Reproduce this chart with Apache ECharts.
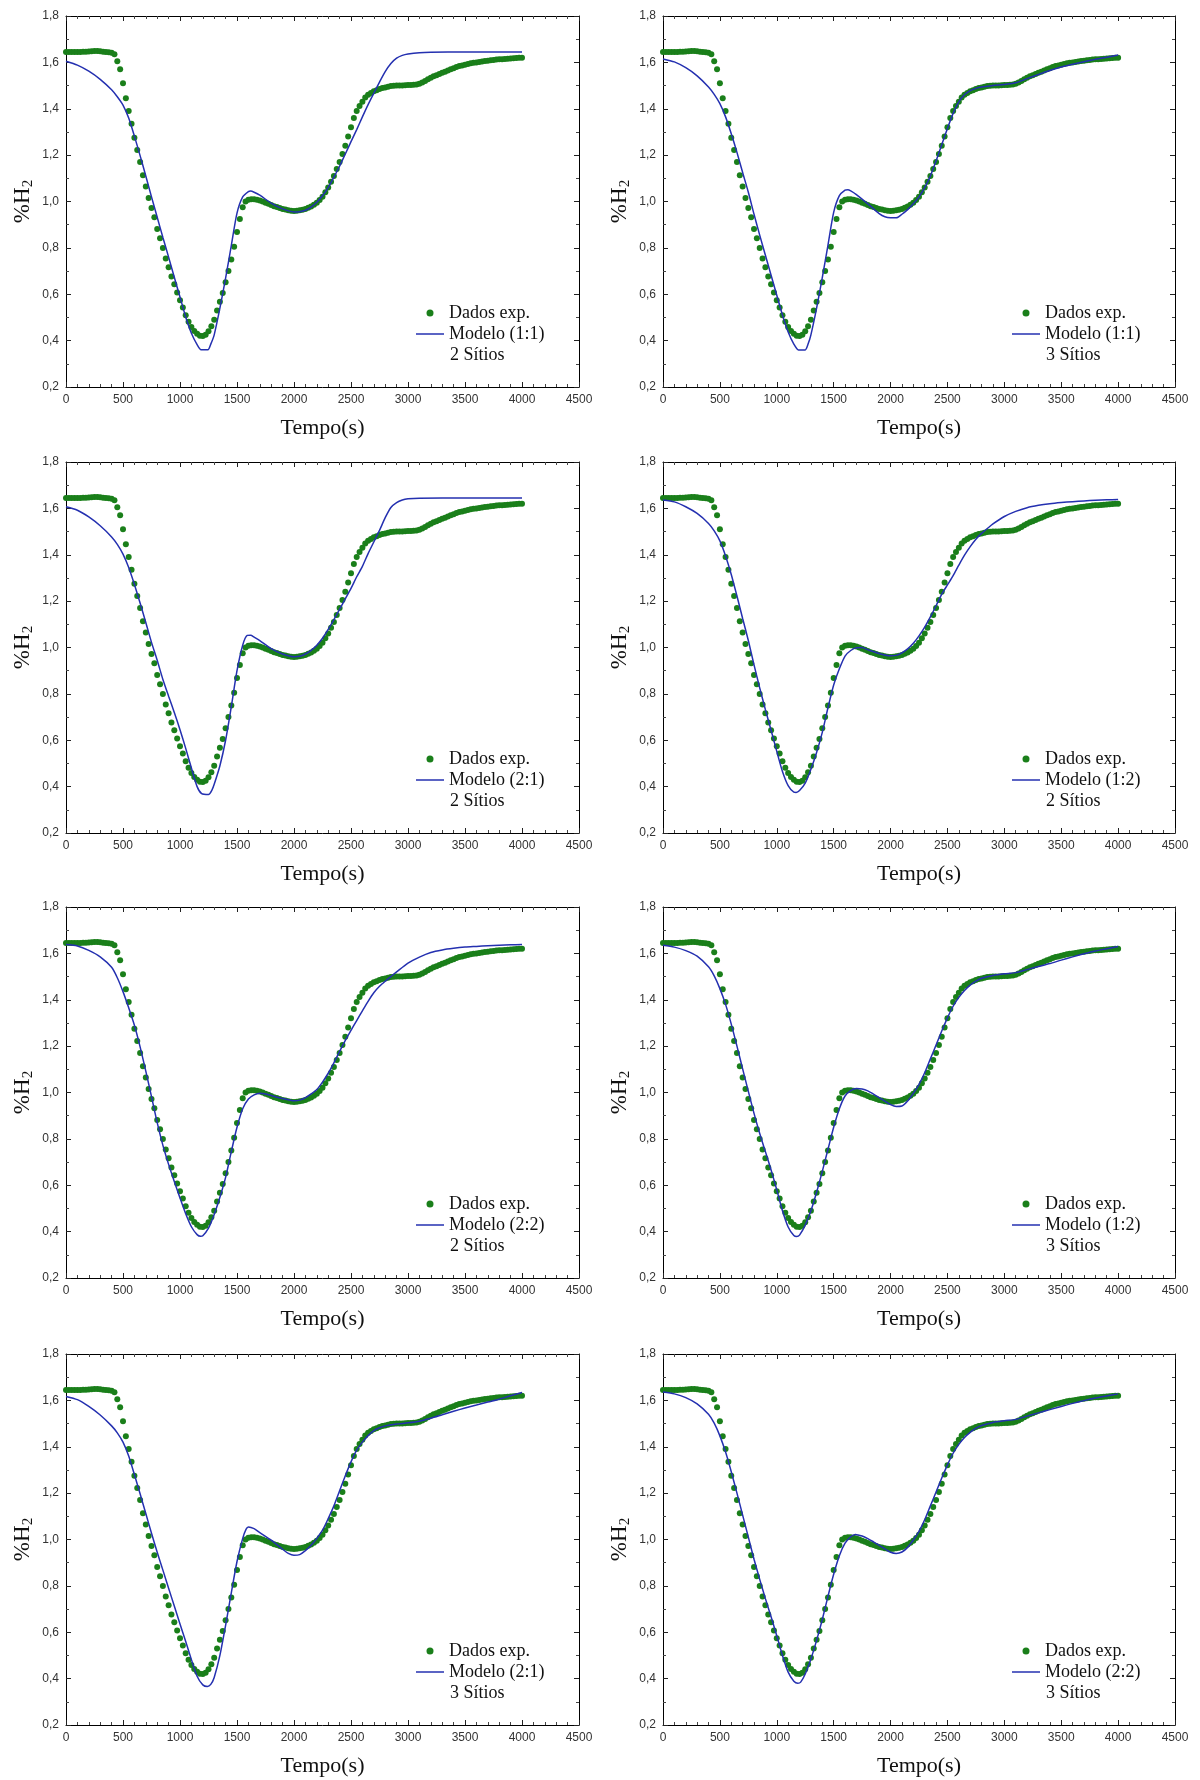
<!DOCTYPE html>
<html>
<head>
<meta charset="utf-8">
<script src="https://cdn.jsdelivr.net/npm/echarts/dist/echarts.min.js"></script>
<style>
  html, body { margin: 0; padding: 0; background: #ffffff; }
  #chart { width: 1200px; height: 1780px; }
</style>
</head>
<body>
<div id="chart"></div>
<script>
// Tempo das medidas experimentais (s)
const tempoExp = [
  0, 25, 50, 75, 100, 125, 150, 175, 200, 225, 250, 275, 300, 325, 350, 375, 400, 425, 450, 475,
  500, 525, 550, 575, 600, 625, 650, 675, 700, 725, 750, 775, 800, 825, 850, 875, 900, 925, 950, 975,
  1000, 1025, 1050, 1075, 1100, 1125, 1150, 1175, 1200, 1225, 1250, 1275, 1300, 1325, 1350, 1375, 1400, 1425, 1450, 1475,
  1500, 1525, 1550, 1575, 1600, 1625, 1650, 1675, 1700, 1725, 1750, 1775, 1800, 1825, 1850, 1875, 1900, 1925, 1950, 1975,
  2000, 2025, 2050, 2075, 2100, 2125, 2150, 2175, 2200, 2225, 2250, 2275, 2300, 2325, 2350, 2375, 2400, 2425, 2450, 2475,
  2500, 2525, 2550, 2575, 2600, 2625, 2650, 2675, 2700, 2725, 2750, 2775, 2800, 2825, 2850, 2875, 2900, 2925, 2950, 2975,
  3000, 3025, 3050, 3075, 3100, 3125, 3150, 3175, 3200, 3225, 3250, 3275, 3300, 3325, 3350, 3375, 3400, 3425, 3450, 3475,
  3500, 3525, 3550, 3575, 3600, 3625, 3650, 3675, 3700, 3725, 3750, 3775, 3800, 3825, 3850, 3875, 3900, 3925, 3950, 3975,
  4000
];

// %H2 medido
const h2Exp = [
  1.645, 1.645, 1.645, 1.645, 1.645, 1.645, 1.646, 1.646, 1.647, 1.648, 1.649, 1.649, 1.648, 1.646, 1.645, 1.644, 1.642, 1.635, 1.605, 1.570,
  1.510, 1.445, 1.390, 1.335, 1.275, 1.222, 1.170, 1.113, 1.065, 1.015, 0.972, 0.932, 0.881, 0.842, 0.799, 0.754, 0.716, 0.677, 0.643, 0.608,
  0.574, 0.543, 0.509, 0.481, 0.459, 0.442, 0.430, 0.421, 0.420, 0.425, 0.440, 0.462, 0.490, 0.530, 0.568, 0.605, 0.652, 0.700, 0.750, 0.805,
  0.868, 0.925, 0.975, 1.000, 1.008, 1.010, 1.010, 1.008, 1.004, 1.000, 0.995, 0.990, 0.985, 0.980, 0.976, 0.972, 0.968, 0.965, 0.962, 0.960,
  0.959, 0.960, 0.962, 0.964, 0.968, 0.973, 0.978, 0.986, 0.995, 1.007, 1.020, 1.040, 1.060, 1.085, 1.110, 1.140, 1.170, 1.205, 1.240, 1.280,
  1.320, 1.360, 1.390, 1.412, 1.430, 1.448, 1.460, 1.468, 1.475, 1.480, 1.485, 1.489, 1.492, 1.495, 1.498, 1.499, 1.500, 1.500, 1.500, 1.501,
  1.502, 1.502, 1.503, 1.505, 1.508, 1.513, 1.520, 1.527, 1.534, 1.540, 1.545, 1.550, 1.555, 1.560, 1.565, 1.570, 1.575, 1.580, 1.584, 1.587,
  1.590, 1.593, 1.596, 1.598, 1.600, 1.602, 1.604, 1.606, 1.607, 1.609, 1.610, 1.612, 1.613, 1.614, 1.615, 1.616, 1.617, 1.618, 1.619, 1.620,
  1.620
];

// Curvas do modelo: [tempo (s), %H2]
const modelo11_2sitios = [[0,1.605],[100,1.588],[200,1.562],[300,1.527],[400,1.482],[450,1.452],[500,1.416],[550,1.36],[600,1.282],[650,1.198],[700,1.11],[750,1.02],[800,0.932],[850,0.845],[900,0.76],[950,0.673],[1000,0.588],[1050,0.502],[1100,0.432],[1150,0.383],[1185,0.361],[1245,0.361],[1270,0.385],[1300,0.425],[1350,0.54],[1400,0.67],[1450,0.81],[1500,0.95],[1550,1.02],[1600,1.043],[1620,1.045],[1650,1.04],[1700,1.027],[1800,0.993],[1900,0.968],[2000,0.955],[2050,0.956],[2100,0.962],[2150,0.976],[2200,0.997],[2250,1.025],[2300,1.06],[2350,1.105],[2400,1.152],[2450,1.205],[2500,1.258],[2550,1.31],[2600,1.365],[2650,1.418],[2700,1.467],[2750,1.515],[2800,1.56],[2850,1.595],[2900,1.618],[2950,1.63],[3000,1.636],[3100,1.642],[3200,1.644],[3500,1.645],[4000,1.645]];

const modelo11_3sitios = [[0,1.615],[100,1.602],[200,1.577],[300,1.542],[400,1.494],[450,1.462],[500,1.422],[550,1.365],[600,1.292],[650,1.212],[700,1.125],[750,1.04],[800,0.945],[850,0.855],[900,0.768],[950,0.682],[1000,0.596],[1050,0.51],[1100,0.437],[1150,0.385],[1190,0.36],[1250,0.36],[1275,0.385],[1300,0.425],[1350,0.54],[1400,0.672],[1450,0.812],[1500,0.953],[1550,1.025],[1600,1.049],[1625,1.051],[1650,1.046],[1700,1.03],[1800,0.99],[1900,0.948],[1950,0.934],[2000,0.93],[2050,0.93],[2100,0.945],[2150,0.965],[2200,0.99],[2250,1.02],[2300,1.06],[2350,1.11],[2400,1.175],[2450,1.245],[2500,1.315],[2550,1.38],[2600,1.43],[2650,1.46],[2700,1.478],[2750,1.488],[2800,1.494],[2900,1.5],[3000,1.505],[3100,1.512],[3200,1.53],[3300,1.548],[3400,1.565],[3500,1.58],[3600,1.592],[3700,1.603],[3800,1.613],[3900,1.622],[4000,1.632]];

const modelo21_2sitios = [[0,1.607],[100,1.592],[200,1.563],[300,1.525],[400,1.477],[450,1.445],[500,1.403],[550,1.345],[600,1.272],[650,1.192],[700,1.108],[750,1.022],[800,0.945],[850,0.862],[900,0.79],[950,0.72],[1000,0.645],[1050,0.565],[1100,0.48],[1150,0.4],[1190,0.37],[1250,0.366],[1280,0.385],[1300,0.41],[1350,0.49],[1400,0.6],[1450,0.745],[1500,0.9],[1550,1.01],[1590,1.052],[1620,1.053],[1650,1.045],[1700,1.03],[1800,0.995],[1900,0.972],[2000,0.96],[2050,0.962],[2100,0.972],[2150,0.988],[2200,1.01],[2250,1.04],[2300,1.078],[2350,1.12],[2400,1.165],[2450,1.21],[2500,1.255],[2550,1.305],[2600,1.35],[2650,1.405],[2700,1.455],[2750,1.505],[2800,1.56],[2850,1.604],[2900,1.625],[2950,1.636],[3000,1.641],[3100,1.644],[3500,1.645],[4000,1.645]];

const modelo12_2sitios = [[0,1.636],[100,1.628],[200,1.607],[300,1.578],[400,1.535],[450,1.503],[500,1.46],[550,1.395],[600,1.315],[650,1.222],[700,1.125],[750,1.03],[800,0.925],[850,0.826],[900,0.732],[950,0.643],[1000,0.552],[1050,0.465],[1100,0.404],[1150,0.376],[1170,0.375],[1200,0.383],[1250,0.415],[1300,0.475],[1350,0.547],[1400,0.634],[1450,0.74],[1500,0.838],[1550,0.908],[1600,0.963],[1650,0.987],[1700,0.999],[1750,1.0],[1800,0.99],[1900,0.974],[2000,0.964],[2050,0.966],[2100,0.977],[2150,0.994],[2200,1.018],[2250,1.05],[2300,1.088],[2350,1.132],[2400,1.18],[2450,1.23],[2500,1.27],[2550,1.31],[2600,1.355],[2650,1.398],[2700,1.435],[2750,1.467],[2800,1.492],[2850,1.513],[2900,1.533],[3000,1.565],[3100,1.587],[3200,1.603],[3300,1.613],[3400,1.62],[3500,1.625],[3600,1.629],[3700,1.632],[3800,1.635],[3900,1.637],[4000,1.638]];

const modelo22_2sitios = [[0,1.638],[100,1.632],[200,1.613],[300,1.585],[400,1.54],[450,1.495],[500,1.435],[550,1.365],[600,1.29],[650,1.197],[700,1.092],[750,0.982],[800,0.87],[850,0.772],[900,0.69],[950,0.616],[1000,0.545],[1050,0.477],[1100,0.421],[1150,0.387],[1180,0.38],[1200,0.382],[1250,0.415],[1300,0.474],[1350,0.548],[1400,0.634],[1450,0.745],[1500,0.85],[1550,0.93],[1600,0.972],[1650,0.99],[1700,0.997],[1750,0.994],[1800,0.987],[1900,0.974],[2000,0.964],[2050,0.967],[2100,0.978],[2150,0.994],[2200,1.013],[2250,1.045],[2300,1.083],[2350,1.128],[2400,1.177],[2450,1.225],[2500,1.268],[2550,1.31],[2600,1.352],[2650,1.393],[2700,1.43],[2750,1.458],[2800,1.48],[2850,1.5],[2900,1.52],[3000,1.558],[3100,1.584],[3200,1.604],[3300,1.615],[3400,1.622],[3500,1.627],[3600,1.63],[3700,1.633],[3800,1.635],[3900,1.637],[4000,1.638]];

const modelo12_3sitios = [[0,1.635],[100,1.627],[200,1.612],[300,1.588],[400,1.542],[450,1.503],[500,1.448],[550,1.38],[600,1.295],[650,1.2],[700,1.102],[750,1.005],[800,0.91],[850,0.823],[900,0.745],[950,0.666],[1000,0.58],[1050,0.49],[1100,0.42],[1150,0.383],[1175,0.379],[1200,0.385],[1250,0.428],[1300,0.49],[1350,0.57],[1400,0.66],[1450,0.755],[1500,0.85],[1550,0.93],[1600,0.985],[1650,1.008],[1700,1.017],[1750,1.015],[1800,1.007],[1850,0.993],[1900,0.978],[1950,0.963],[2000,0.948],[2050,0.94],[2100,0.942],[2150,0.963],[2200,0.996],[2250,1.035],[2300,1.085],[2350,1.145],[2400,1.205],[2450,1.265],[2500,1.322],[2550,1.372],[2600,1.41],[2650,1.44],[2700,1.463],[2750,1.48],[2800,1.493],[2900,1.505],[3000,1.512],[3100,1.517],[3200,1.53],[3300,1.543],[3400,1.556],[3500,1.571],[3600,1.585],[3700,1.598],[3800,1.61],[3900,1.62],[4000,1.63]];

const modelo21_3sitios = [[0,1.617],[100,1.603],[200,1.574],[300,1.537],[400,1.49],[450,1.46],[500,1.42],[550,1.36],[600,1.28],[650,1.197],[700,1.112],[750,1.027],[800,0.945],[850,0.868],[900,0.79],[950,0.713],[1000,0.636],[1050,0.56],[1100,0.482],[1150,0.41],[1200,0.373],[1240,0.366],[1270,0.375],[1300,0.405],[1350,0.5],[1400,0.63],[1450,0.77],[1500,0.905],[1550,1.005],[1580,1.045],[1600,1.054],[1650,1.047],[1700,1.03],[1800,0.997],[1900,0.958],[1950,0.94],[2000,0.932],[2050,0.935],[2100,0.952],[2150,0.975],[2200,1.005],[2250,1.04],[2300,1.09],[2350,1.145],[2400,1.21],[2450,1.275],[2500,1.335],[2550,1.385],[2600,1.42],[2650,1.448],[2700,1.47],[2750,1.482],[2800,1.49],[2900,1.498],[3000,1.503],[3100,1.51],[3200,1.523],[3300,1.538],[3400,1.553],[3500,1.567],[3600,1.58],[3700,1.593],[3800,1.605],[3900,1.62],[4000,1.634]];

const modelo22_3sitios = [[0,1.636],[100,1.628],[200,1.612],[300,1.585],[400,1.54],[450,1.502],[500,1.447],[550,1.377],[600,1.292],[650,1.2],[700,1.105],[750,1.01],[800,0.915],[850,0.828],[900,0.745],[950,0.667],[1000,0.585],[1050,0.5],[1100,0.428],[1150,0.389],[1185,0.38],[1210,0.385],[1250,0.42],[1300,0.485],[1350,0.565],[1400,0.655],[1450,0.755],[1500,0.85],[1550,0.93],[1600,0.984],[1650,1.012],[1690,1.022],[1750,1.015],[1800,1.004],[1850,0.99],[1900,0.975],[1950,0.96],[2000,0.945],[2050,0.94],[2100,0.946],[2150,0.966],[2200,0.998],[2250,1.035],[2300,1.085],[2350,1.145],[2400,1.205],[2450,1.265],[2500,1.322],[2550,1.372],[2600,1.41],[2650,1.44],[2700,1.462],[2750,1.48],[2800,1.492],[2900,1.505],[3000,1.512],[3100,1.518],[3200,1.532],[3300,1.546],[3400,1.56],[3500,1.574],[3600,1.587],[3700,1.599],[3800,1.61],[3900,1.619],[4000,1.628]];

// Painéis, na ordem de leitura (linha a linha)
const paineis = [
  { modelo: 'Modelo (1:1)', sitios: '2 Sítios', curva: modelo11_2sitios },
  { modelo: 'Modelo (1:1)', sitios: '3 Sítios', curva: modelo11_3sitios },
  { modelo: 'Modelo (2:1)', sitios: '2 Sítios', curva: modelo21_2sitios },
  { modelo: 'Modelo (1:2)', sitios: '2 Sítios', curva: modelo12_2sitios },
  { modelo: 'Modelo (2:2)', sitios: '2 Sítios', curva: modelo22_2sitios },
  { modelo: 'Modelo (1:2)', sitios: '3 Sítios', curva: modelo12_3sitios },
  { modelo: 'Modelo (2:1)', sitios: '3 Sítios', curva: modelo21_3sitios },
  { modelo: 'Modelo (2:2)', sitios: '3 Sítios', curva: modelo22_3sitios }
];

// Escalas dos eixos
const eixoTempo = { min: 0, max: 4500, passo: 500 };
const eixoH2 = { min: 0.2, max: 1.8, passo: 0.2 };

const nomeDados = 'Dados exp.';
const tituloX = 'Tempo(s)';

// Geometria da grade 2 x 4
const colLeft = [66, 663];
const colWidth = [513, 512];
const rowTop = [16, 462, 907, 1354];
const plotHeight = 371;

const serif = '"Liberation Serif", "Times New Roman", serif';
const sans = '"Liberation Sans", Arial, sans-serif';
const corDados = '#1a7f1a';
const corModelo = '#2430b0';

// traço horizontal usado como ícone da curva do modelo na legenda
const iconeLinha = 'path://M0,0H56V3H0Z';

const pontosExp = tempoExp.map((t, k) => [t, h2Exp[k]]);
const fmtVirgula = v => (Math.round(v * 10) / 10).toFixed(1).replace('.', ',');
const fmtInteiro = v => String(Math.round(v));

const grid = [], xAxis = [], yAxis = [], series = [], legend = [], graphic = [];

paineis.forEach((p, i) => {
  const col = i % 2, row = Math.floor(i / 2);
  const left = colLeft[col], top = rowTop[row], w = colWidth[col], h = plotHeight;

  grid.push({ left: left, top: top, width: w, height: h, containLabel: false, outerBoundsMode: 'none' });

  const linhaEixo = { show: true, onZero: false, lineStyle: { color: '#000', width: 1 } };

  const xBase = {
    type: 'value', gridIndex: i,
    min: eixoTempo.min, max: eixoTempo.max, interval: eixoTempo.passo,
    axisLine: linhaEixo,
    axisTick: { show: true, inside: true, length: 5, lineStyle: { color: '#222' } },
    minorTick: { show: true, splitNumber: 5, length: 3, lineStyle: { color: '#444' } },
    splitLine: { show: false }, minorSplitLine: { show: false }
  };
  xAxis.push(Object.assign({}, xBase, {
    position: 'bottom',
    axisLabel: { show: true, margin: 7, fontFamily: sans, fontSize: 12, color: '#333',
                 formatter: fmtInteiro, showMinLabel: true, showMaxLabel: true },
    name: tituloX, nameLocation: 'middle', nameGap: 30,
    nameTextStyle: { fontFamily: serif, fontSize: 22, color: '#111' }
  }));
  xAxis.push(Object.assign({}, xBase, { position: 'top', axisLabel: { show: false } }));

  const yBase = {
    type: 'value', gridIndex: i,
    min: eixoH2.min, max: eixoH2.max, interval: eixoH2.passo,
    axisLine: linhaEixo,
    axisTick: { show: true, inside: true, length: 5, lineStyle: { color: '#222' } },
    minorTick: { show: true, splitNumber: 2, length: 3, lineStyle: { color: '#444' } },
    splitLine: { show: false }, minorSplitLine: { show: false }
  };
  yAxis.push(Object.assign({}, yBase, {
    position: 'left',
    axisLabel: { show: true, margin: 7, fontFamily: sans, fontSize: 12, color: '#333',
                 formatter: fmtVirgula, showMinLabel: true, showMaxLabel: true },
    name: '{a|%H}{b|2}', nameLocation: 'middle', nameGap: 30, nameRotate: 90,
    nameTextStyle: {
      rich: {
        a: { fontFamily: serif, fontSize: 23, lineHeight: 27, color: '#111', verticalAlign: 'middle' },
        b: { fontFamily: serif, fontSize: 15, lineHeight: 15, color: '#111', verticalAlign: 'bottom' }
      }
    }
  }));
  yAxis.push(Object.assign({}, yBase, { position: 'right', axisLabel: { show: false } }));

  series.push({
    type: 'scatter', name: nomeDados,
    xAxisIndex: 2 * i, yAxisIndex: 2 * i,
    data: pontosExp, symbol: 'circle', symbolSize: 6,
    itemStyle: { color: corDados, opacity: 1 },
    silent: true, animation: false, z: 2
  });
  series.push({
    type: 'line', name: p.modelo,
    xAxisIndex: 2 * i, yAxisIndex: 2 * i,
    data: p.curva, symbol: 'none', showSymbol: false, smooth: 0.25,
    lineStyle: { color: corModelo, width: 1.5 },
    itemStyle: { color: corModelo },
    silent: true, animation: false, z: 3
  });

  legend.push({
    left: left + w - 163, top: top + h - 84,
    orient: 'vertical', padding: 0, itemGap: 1,
    itemWidth: 28, itemHeight: 7, selectedMode: false,
    textStyle: { fontFamily: serif, fontSize: 18, color: '#111', lineHeight: 20 },
    data: [
      { name: nomeDados, icon: 'circle' },
      { name: p.modelo, icon: iconeLinha, itemStyle: { color: corModelo, borderWidth: 0 } }
    ]
  });

  graphic.push({
    type: 'text', left: left + w - 129, top: top + h - 41, silent: true,
    style: { text: p.sitios, font: '18px ' + serif, fill: '#111' }
  });
});

const chart = echarts.init(document.getElementById('chart'), null, { renderer: 'canvas' });
chart.setOption({
  backgroundColor: '#ffffff',
  animation: false,
  grid: grid, xAxis: xAxis, yAxis: yAxis,
  legend: legend, series: series, graphic: graphic
});
</script>
</body>
</html>
